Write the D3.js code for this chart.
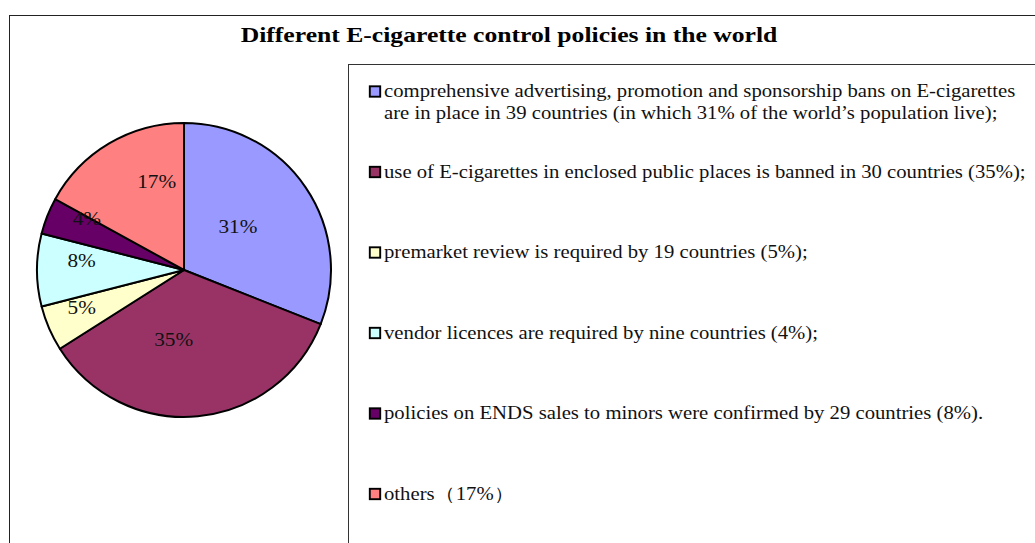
<!DOCTYPE html>
<html><head><meta charset="utf-8">
<script src="https://cdn.jsdelivr.net/npm/d3@7"></script>
<style>
html,body{margin:0;padding:0;background:#fff;}
svg{display:block;}
</style></head>
<body>
<svg id="chart" width="1035" height="543"></svg>
<script>
const title = "Different E-cigarette control policies in the world";
const categories = [
  ["comprehensive advertising, promotion and sponsorship bans on E-cigarettes",
   "are in place in 39 countries (in which 31% of the world\u2019s population live);"],
  ["use of E-cigarettes in enclosed public places is banned in 30 countries (35%);"],
  ["premarket review is required by 19 countries (5%);"],
  ["vendor licences are required by nine countries (4%);"],
  ["policies on ENDS sales to minors were confirmed by 29 countries (8%)."],
  ["others\uFF0817%\uFF09"]
];
const values = [31, 35, 5, 8, 4, 17];
const valueLabels = ["31%", "35%", "5%", "8%", "4%", "17%"];
const colors = ["#9999FF", "#993366", "#FFFFCC", "#CCFFFF", "#660066", "#FF8080"];
// label placement inside each slice: [fraction of radius, fraction of slice angle]
const labelPlace = [[0.47, 0.46], [0.48, 0.61], [0.74, 0.69], [0.70, 0.69], [0.75, 0.96], [0.63, 0.72]];

const svg = d3.select("#chart");
const font = "'Liberation Serif', 'Times New Roman', serif";
// horizontal stretch to approximate the wider Palatino-like face of the original
const stretch = 1.12;

// outer frame
svg.append("rect").attr("x", 9.5).attr("y", 15.5).attr("width", 1100).attr("height", 600)
  .attr("fill", "#fff").attr("stroke", "#222").attr("stroke-width", 1);

// title
svg.append("text")
  .attr("transform", `translate(509,42) scale(1.166,1)`)
  .attr("text-anchor", "middle")
  .attr("font-family", font).attr("font-weight", "bold").attr("font-size", 22)
  .attr("fill", "#000").text(title);

// pie
const cx = 184, cy = 270, R = 147;
const pie = d3.pie().sort(null).value(d => d);
const arcs = pie(values);
const arc = d3.arc().innerRadius(0).outerRadius(R);
const g = svg.append("g").attr("transform", `translate(${cx},${cy})`);
g.selectAll("path").data(arcs).join("path")
  .attr("d", arc).attr("fill", (d, i) => colors[i])
  .attr("stroke", "#000").attr("stroke-width", 2).attr("stroke-linejoin", "round");
g.selectAll("text").data(arcs).join("text")
  .attr("transform", (d, i) => {
    const [rf, af] = labelPlace[i];
    const a = d.startAngle + af * (d.endAngle - d.startAngle);
    const r = R * rf;
    return `translate(${r * Math.sin(a)},${-r * Math.cos(a)}) scale(${stretch},1)`;
  })
  .attr("text-anchor", "middle").attr("dy", "0.35em")
  .attr("font-family", font).attr("font-size", 19).attr("fill", "#111")
  .text((d, i) => valueLabels[i]);

// legend box
svg.append("rect").attr("x", 348.5).attr("y", 64.5).attr("width", 800).attr("height", 600)
  .attr("fill", "#fff").attr("stroke", "#333").attr("stroke-width", 1);

const yLeg = d3.scalePoint().domain(d3.range(categories.length)).range([91.5, 494]);
const lg = svg.append("g");
categories.forEach((lines, i) => {
  const y = yLeg(i);
  lg.append("rect").attr("x", 369.8).attr("y", y - 5.2).attr("width", 10.4).attr("height", 10.4)
    .attr("fill", colors[i]).attr("stroke", "#000").attr("stroke-width", 1.9);
  lines.forEach((t, j) => {
    lg.append("text")
      .attr("transform", `translate(384,${y + 5.5 + j * 21.5}) scale(${stretch},1)`)
      .attr("font-family", font).attr("font-size", 18.5).attr("fill", "#111").text(t);
  });
});
</script>
</body></html>
